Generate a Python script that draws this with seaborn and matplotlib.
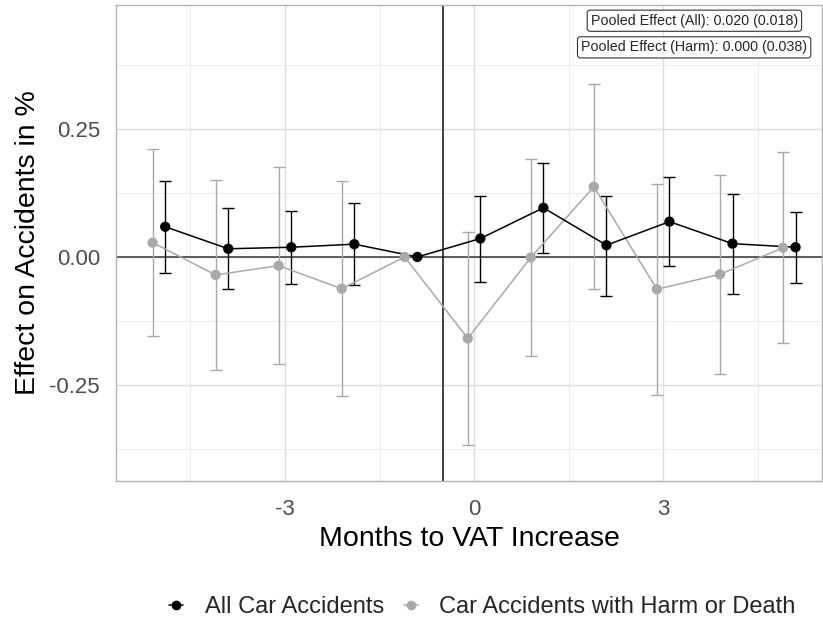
import numpy as np
import pandas as pd
import matplotlib
matplotlib.use("Agg")
import matplotlib.pyplot as plt
import seaborn as sns
from matplotlib.lines import Line2D

months = [-5, -4, -3, -2, -1, 0, 1, 2, 3, 4, 5]
all_est = [0.059, 0.016, 0.019, 0.025, 0.0, 0.036, 0.096, 0.023, 0.069, 0.026, 0.019]
all_lo = [-0.031, -0.063, -0.053, -0.055, 0.0, -0.048, 0.007, -0.076, -0.018, -0.072, -0.051]
all_hi = [0.148, 0.095, 0.090, 0.106, 0.0, 0.119, 0.184, 0.120, 0.156, 0.122, 0.088]
harm_est = [0.028, -0.035, -0.017, -0.062, 0.0, -0.159, -0.001, 0.137, -0.063, -0.034, 0.018]
harm_lo = [-0.155, -0.221, -0.209, -0.272, 0.0, -0.367, -0.193, -0.063, -0.270, -0.229, -0.168]
harm_hi = [0.210, 0.150, 0.175, 0.148, 0.0, 0.048, 0.191, 0.337, 0.143, 0.160, 0.204]
series_names = ["All Car Accidents", "Car Accidents with Harm or Death"]
annotations = ["Pooled Effect (All): 0.020 (0.018)", "Pooled Effect (Harm): 0.000 (0.038)"]

sns.set_theme(style="whitegrid")
plt.rcParams['font.family'] = ['Liberation Sans', 'DejaVu Sans']

colors = {series_names[0]: "#000000", series_names[1]: "#A9A9A9"}
offsets = {series_names[0]: 0.1, series_names[1]: -0.1}

rows = []
for name, est, lo, hi in [(series_names[0], all_est, all_lo, all_hi),
                          (series_names[1], harm_est, harm_lo, harm_hi)]:
    for m, e, l, h in zip(months, est, lo, hi):
        rows.append(dict(series=name, month=m, x=m + offsets[name], est=e, lo=l, hi=h))
df = pd.DataFrame(rows)

fig = plt.figure(figsize=(8.23, 6.26), dpi=100)
ax = fig.add_axes([0.141, 0.2316, 0.8578, 0.7604])

ax.set_xlim(-5.68, 5.52)
ax.set_ylim(-0.4375, 0.492)

# grid
ax.set_xticks([-3, 0, 3])
ax.set_xticks([-4.5, -1.5, 1.5, 4.5], minor=True)
ax.set_yticks([-0.25, 0.0, 0.25])
ax.set_yticks([-0.375, -0.125, 0.125, 0.375], minor=True)
ax.grid(True, which="major", color="#DEDEDE", linewidth=1.0)
ax.grid(True, which="minor", color="#EDEDED", linewidth=0.8)
ax.set_axisbelow(True)

ax.axhline(0, color="#333333", linewidth=1.1, zorder=1)
ax.axvline(-0.5, color="#111111", linewidth=1.1, zorder=1)

# draw harm first, then all
for name in [series_names[1], series_names[0]]:
    sub = df[df.series == name]
    c = colors[name]
    err = sub[sub.month != -1]
    ax.errorbar(err.x, err.est, yerr=[err.est - err.lo, err.hi - err.est], fmt="none",
                ecolor=c, elinewidth=1.0, capsize=4, capthick=1.0, zorder=2)
    sns.lineplot(data=sub, x="x", y="est", color=c, linewidth=1.1, ax=ax,
                 legend=False, zorder=3, sort=True)
    sns.scatterplot(data=sub, x="x", y="est", color=c, s=55, edgecolor="none",
                    ax=ax, legend=False, zorder=4)

ax.set_xticklabels(["-3", "0", "3"])
ax.set_yticklabels(["-0.25", "0.00", "0.25"])
ax.tick_params(axis="both", which="major", labelsize=16, labelcolor="#4D4D4D",
               color="#B3B3B3", length=6, width=1)
ax.tick_params(axis="x", which="major", pad=7)
ax.tick_params(axis="y", which="major", pad=5.5)
ax.tick_params(axis="both", which="minor", length=0)
ax.set_xlabel("Months to VAT Increase", fontsize=20.5, color="black", labelpad=4)
ax.set_ylabel("Effect on Accidents in %", fontsize=20.5, color="black", labelpad=6)

for sp in ax.spines.values():
    sp.set_color("#B3B3B3")
    sp.set_linewidth(1.0)

bbox = dict(boxstyle="round,pad=0.25,rounding_size=0.2", fc="white", ec="#333333", lw=0.8)
ax.text(0.966, 0.967, annotations[0], transform=ax.transAxes, ha="right", va="center",
        fontsize=10.3, bbox=bbox)
ax.text(0.979, 0.911, annotations[1], transform=ax.transAxes, ha="right", va="center",
        fontsize=10.3, bbox=bbox)

handles = [Line2D([0], [0], color=colors[n], marker="o", markersize=6, linewidth=1.1)
           for n in series_names]
fig.legend(handles, series_names, loc="center", bbox_to_anchor=(482.5 / 823, 1 - 607 / 626),
           ncol=2, frameon=False, fontsize=17, handlelength=0.6, columnspacing=0.85,
           handletextpad=0.9, borderaxespad=0, borderpad=0)

fig.savefig("out.png", dpi=100)
